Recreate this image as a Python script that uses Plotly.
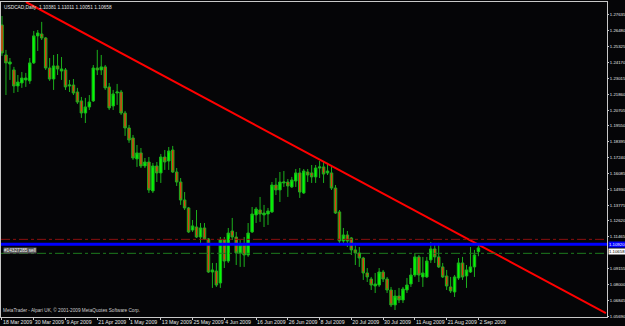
import plotly.graph_objects as go

# ---- daily USDCAD candles (bar index 0 = 18 Mar 2009) ----
opens = [1.2691, 1.2472, 1.2406, 1.2363, 1.2246, 1.2268, 1.2290, 1.2283, 1.2414, 1.2611,
         1.2625, 1.2596, 1.2377, 1.2297, 1.2392, 1.2355, 1.2363, 1.2246, 1.2253, 1.2202,
         1.2137, 1.2049, 1.2093, 1.2137, 1.2377, 1.2363, 1.2385, 1.2239, 1.2100, 1.2195,
         1.2202, 1.2049, 1.1940, 1.1867, 1.1714, 1.1758, 1.1663, 1.1692, 1.1481, 1.1663,
         1.1612, 1.1728, 1.1699, 1.1779, 1.1619, 1.1546, 1.1415, 1.1357, 1.1196, 1.1218,
         1.1145, 1.1211, 1.1131, 1.0890, 1.0897, 1.0810, 1.1123, 1.0970, 1.1189, 1.1145,
         1.1029, 1.1087, 1.1014, 1.1182, 1.1306, 1.1342, 1.1306, 1.1313, 1.1328, 1.1524,
         1.1488, 1.1539, 1.1546, 1.1510, 1.1553, 1.1612, 1.1466, 1.1619, 1.1612, 1.1583,
         1.1648, 1.1656, 1.1612, 1.1612, 1.1502, 1.1328, 1.1116, 1.1160, 1.1138, 1.1051,
         1.1029, 1.0992, 1.0883, 1.0839, 1.0788, 1.0795, 1.0890, 1.0839, 1.0759, 1.0650,
         1.0715, 1.0686, 1.0759, 1.0803, 1.0868, 1.1000, 1.0854, 1.0854, 1.0978, 1.1058,
         1.1000, 1.0927, 1.0861, 1.0781, 1.0744, 1.0846, 1.0956, 1.0861, 1.0890, 1.0927,
         1.10381]
highs = [1.2756, 1.2509, 1.2450, 1.2385, 1.2326, 1.2348, 1.2341, 1.2450, 1.2647, 1.2654,
         1.2713, 1.2603, 1.2450, 1.2472, 1.2479, 1.2457, 1.2377, 1.2290, 1.2297, 1.2232,
         1.2166, 1.2159, 1.2180, 1.2399, 1.2509, 1.2472, 1.2399, 1.2268, 1.2217, 1.2261,
         1.2217, 1.2064, 1.1962, 1.1889, 1.1816, 1.1794, 1.1721, 1.1728, 1.1685, 1.1692,
         1.1750, 1.1779, 1.1801, 1.1809, 1.1648, 1.1575, 1.1473, 1.1364, 1.1269, 1.1342,
         1.1247, 1.1247, 1.1138, 1.0956, 1.0956, 1.1145, 1.1145, 1.1211, 1.1284, 1.1182,
         1.1123, 1.1145, 1.1247, 1.1364, 1.1364, 1.1437, 1.1379, 1.1357, 1.1546, 1.1575,
         1.1619, 1.1626, 1.1568, 1.1583, 1.1641, 1.1648, 1.1641, 1.1641, 1.1670, 1.1670,
         1.1699, 1.1692, 1.1685, 1.1656, 1.1524, 1.1342, 1.1211, 1.1189, 1.1145, 1.1102,
         1.1072, 1.1000, 1.0919, 1.0854, 1.0883, 1.0919, 1.0905, 1.0854, 1.0781, 1.0759,
         1.0774, 1.0781, 1.0846, 1.0919, 1.1029, 1.1014, 1.1000, 1.1000, 1.1109, 1.1102,
         1.1102, 1.0956, 1.0905, 1.0854, 1.0868, 1.0992, 1.1000, 1.0941, 1.1072, 1.1051,
         1.11011]
lows = [1.2465, 1.2180, 1.2290, 1.2195, 1.2202, 1.2232, 1.2239, 1.2261, 1.2406, 1.2501,
        1.2581, 1.2363, 1.2283, 1.2217, 1.2326, 1.2290, 1.2217, 1.2202, 1.2180, 1.2115,
        1.2013, 1.1976, 1.2071, 1.2129, 1.2326, 1.2326, 1.2217, 1.2071, 1.2071, 1.2108,
        1.2035, 1.1882, 1.1831, 1.1707, 1.1656, 1.1648, 1.1648, 1.1466, 1.1466, 1.1546,
        1.1539, 1.1634, 1.1634, 1.1612, 1.1517, 1.1379, 1.1342, 1.1174, 1.1182, 1.1138,
        1.1102, 1.1123, 1.0883, 1.0774, 1.0781, 1.0774, 1.0919, 1.0956, 1.1123, 1.0941,
        1.0927, 1.0927, 1.1000, 1.1174, 1.1247, 1.1255, 1.1218, 1.1233, 1.1320, 1.1451,
        1.1400, 1.1510, 1.1437, 1.1502, 1.1510, 1.1430, 1.1459, 1.1546, 1.1539, 1.1539,
        1.1575, 1.1539, 1.1597, 1.1488, 1.1313, 1.1102, 1.1102, 1.1072, 1.1014, 1.0941,
        1.0927, 1.0832, 1.0817, 1.0759, 1.0737, 1.0781, 1.0817, 1.0737, 1.0635, 1.0613,
        1.0664, 1.0664, 1.0737, 1.0781, 1.0854, 1.0817, 1.0781, 1.0846, 1.0956, 1.0956,
        1.0919, 1.0846, 1.0759, 1.0737, 1.0708, 1.0832, 1.0832, 1.0774, 1.0883, 1.0854,
        1.10051]
closes = [1.2487, 1.2414, 1.2421, 1.2246, 1.2275, 1.2304, 1.2304, 1.2414, 1.2611, 1.2632,
          1.2596, 1.2377, 1.2297, 1.2392, 1.2370, 1.2370, 1.2239, 1.2253, 1.2195, 1.2129,
          1.2049, 1.2093, 1.2129, 1.2377, 1.2363, 1.2385, 1.2232, 1.2086, 1.2188, 1.2202,
          1.2049, 1.1940, 1.1852, 1.1721, 1.1758, 1.1663, 1.1692, 1.1488, 1.1663, 1.1612,
          1.1728, 1.1692, 1.1772, 1.1619, 1.1546, 1.1415, 1.1357, 1.1182, 1.1226, 1.1145,
          1.1211, 1.1131, 1.0890, 1.0905, 1.0795, 1.1123, 1.0970, 1.1174, 1.1145, 1.1029,
          1.1087, 1.1014, 1.1174, 1.1313, 1.1349, 1.1313, 1.1320, 1.1335, 1.1524, 1.1488,
          1.1546, 1.1546, 1.1517, 1.1561, 1.1612, 1.1473, 1.1626, 1.1597, 1.1583, 1.1648,
          1.1656, 1.1604, 1.1626, 1.1502, 1.1320, 1.1116, 1.1160, 1.1116, 1.1051, 1.1029,
          1.0992, 1.0883, 1.0854, 1.0795, 1.0803, 1.0890, 1.0839, 1.0759, 1.0650, 1.0715,
          1.0686, 1.0766, 1.0795, 1.0868, 1.1000, 1.0868, 1.0883, 1.0970, 1.1058, 1.1000,
          1.0927, 1.0854, 1.0788, 1.0752, 1.0854, 1.0956, 1.0854, 1.0905, 1.0927, 1.1014,
          1.10658]
bar_index = list(range(len(opens)))

date_tick_bars = [0, 8, 16, 24, 32, 40, 48, 56, 64, 72, 80, 88, 96, 104, 112, 120]
date_tick_labels = ["18 Mar 2009", "30 Mar 2009", "9 Apr 2009", "21 Apr 2009", "1 May 2009",
                    "13 May 2009", "25 May 2009", "4 Jun 2009", "16 Jun 2009", "26 Jun 2009",
                    "8 Jul 2009", "20 Jul 2009", "30 Jul 2009", "11 Aug 2009", "21 Aug 2009",
                    "2 Sep 2009"]
price_ticks = [1.27635, 1.26480, 1.25325, 1.24170, 1.23015, 1.21860, 1.20705, 1.19550,
               1.18395, 1.17240, 1.16085, 1.14930, 1.13775, 1.12620, 1.11465,
               1.09155, 1.08000, 1.06845, 1.05690]
price_tick_labels = ["%.5f" % v for v in price_ticks]

# objects drawn on the chart
trend_x = [6.05, 152.1]
trend_y = [1.2858, 1.0591]
blue_level = 1.1092
stop_level = 1.1128
order_level = 1.1026
order_label = "#14327285 sell"
symbol = "USDCAD,Daily"
footer = "MetaTrader - Alpari UK, \u00a9 2001-2009 MetaQuotes Software Corp."

x_range = [-0.25, 152.39]
y_range = [1.0562, 1.2858]

BG = "#050507"
AX = "#c8c8c8"
FONT = "Liberation Sans"
TXT = "#e6e6e6"

fig = go.Figure()
fig.add_trace(go.Candlestick(
    x=bar_index, open=opens, high=highs, low=lows, close=closes,
    increasing=dict(fillcolor="#00ff00", line=dict(color="#1cb01c", width=1)),
    decreasing=dict(fillcolor="#e03a10", line=dict(color="#1cb01c", width=1)),
    whiskerwidth=0, hoverinfo="skip", showlegend=False,
))
fig.add_trace(go.Scatter(x=trend_x, y=trend_y, mode="lines",
                         line=dict(color="#ff0000", width=2), showlegend=False, hoverinfo="skip"))

fig.add_shape(type="line", xref="paper", x0=0, x1=1, yref="y", y0=stop_level, y1=stop_level,
              line=dict(color="#8b1010", width=1, dash="dashdot"))
fig.add_shape(type="line", xref="paper", x0=0, x1=1, yref="y", y0=order_level, y1=order_level,
              line=dict(color="#1e7a1e", width=1, dash="dashdot"))
fig.add_shape(type="line", xref="paper", x0=0, x1=1, yref="y", y0=blue_level, y1=blue_level,
              line=dict(color="#0000ff", width=3))

fig.add_annotation(xref="paper", yref="paper", x=0.003, y=0.993, xanchor="left", yanchor="top",
                   text="%s  %.5f %.5f %.5f %.5f" % (symbol, opens[-1], highs[-1], lows[-1], closes[-1]),
                   showarrow=False, font=dict(family=FONT, size=4.8, color=TXT), borderpad=0)
fig.add_annotation(xref="paper", yref="paper", x=0.002, y=0.01, xanchor="left", yanchor="bottom",
                   text=footer, showarrow=False, font=dict(family=FONT, size=4.7, color="#d0d0d0"),
                   borderpad=0)
fig.add_annotation(xref="paper", yref="y", x=0.003, y=order_level + 0.0022, xanchor="left",
                   yanchor="middle", text=order_label, showarrow=False,
                   font=dict(family=FONT, size=4.7, color="#f0f0f0"), bgcolor="#5a5a5a", borderpad=0)
fig.add_annotation(xref="paper", yref="y", x=1.002, y=blue_level, xanchor="left", yanchor="middle",
                   text="%.5f" % blue_level, showarrow=False,
                   font=dict(family=FONT, size=4.3, color="#ffffff"), bgcolor="#0000ff", borderpad=0)
fig.add_annotation(xref="paper", yref="y", x=1.002, y=closes[-1], xanchor="left", yanchor="top",
                   text="%.5f" % closes[-1], showarrow=False,
                   font=dict(family=FONT, size=4.3, color="#000000"), bgcolor="#ffffff", borderpad=0)

fig.update_layout(
    width=625, height=326,
    margin=dict(l=1, r=18, t=2, b=9, autoexpand=False),
    paper_bgcolor=BG, plot_bgcolor=BG,
    showlegend=False,
    boxgap=0.1,
    xaxis=dict(range=x_range, rangeslider=dict(visible=False), showgrid=False, zeroline=False,
               tickmode="array", tickvals=date_tick_bars, ticktext=date_tick_labels,
               tickangle=0, automargin=False,
               ticks="outside", ticklen=2, tickcolor=AX, ticklabelposition="outside right",
               tickfont=dict(family=FONT, size=5.2, color=TXT),
               showline=True, linecolor=AX, linewidth=1, mirror=True),
    yaxis=dict(range=y_range, side="right", showgrid=False, zeroline=False, automargin=False,
               tickmode="array", tickvals=price_ticks, ticktext=price_tick_labels,
               ticks="outside", ticklen=1, tickcolor=AX,
               tickfont=dict(family=FONT, size=4.3, color=TXT),
               showline=True, linecolor=AX, linewidth=1, mirror=True),
)

fig.write_html("out.html")
